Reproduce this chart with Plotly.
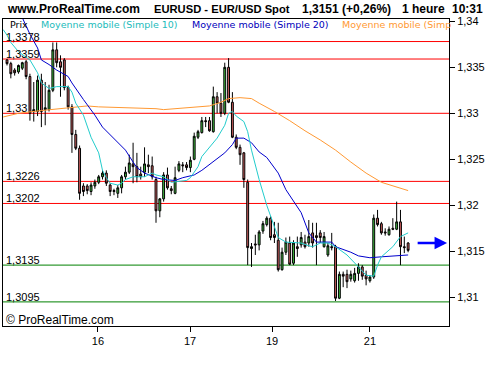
import plotly.graph_objects as go

# ---------------- data ----------------
opens = [1.3358,1.3354,1.3347,1.3345,1.3349,1.3356,1.3340,1.3302,1.3302,1.3336,
         1.3304,1.3304,1.3325,1.3369,1.3356,1.3358,1.3328,1.3307,1.3277,1.3262,
         1.3221,1.3221,1.3215,1.3221,1.3225,1.3231,1.3235,1.3222,1.3215,1.3213,
         1.3219,1.3231,1.3236,1.3245,1.3242,1.3234,1.3236,1.3244,1.3243,1.3228,
         1.3194,1.3207,1.3233,1.3218,1.3213,1.3238,1.3244,1.3244,1.3241,1.3250,
         1.3274,1.3279,1.3292,1.3292,1.3280,1.3318,1.3311,1.3300,1.3350,1.3312,
         1.3274,1.3263,1.3257,1.3225,1.3153,1.3158,1.3157,1.3172,1.3179,1.3186,
         1.3168,1.3162,1.3130,1.3149,1.3159,1.3137,1.3155,1.3157,1.3160,1.3159,
         1.3170,1.3167,1.3170,1.3155,1.3146,1.3155,1.3155,1.3099,1.3125,1.3125,
         1.3120,1.3118,1.3126,1.3133,1.3124,1.3118,1.3122,1.3186,1.3180,1.3171,
         1.3168,1.3175,1.3174,1.3182,1.3155,1.3159]
highs = [1.3359,1.3356,1.3349,1.3353,1.3356,1.3358,1.3343,1.3334,1.3341,1.3343,
         1.3334,1.3331,1.3377,1.3377,1.3363,1.3360,1.3330,1.3310,1.3282,1.3265,
         1.3224,1.3223,1.3225,1.3228,1.3233,1.3238,1.3238,1.3224,1.3218,1.3222,
         1.3233,1.3242,1.3255,1.3268,1.3257,1.3242,1.3263,1.3255,1.3253,1.3231,
         1.3208,1.3236,1.3241,1.3221,1.3242,1.3248,1.3247,1.3247,1.3253,1.3279,
         1.3282,1.3296,1.3296,1.3296,1.3329,1.3323,1.3322,1.3355,1.3360,1.3323,
         1.3277,1.3266,1.3258,1.3228,1.3159,1.3168,1.3173,1.3183,1.3188,1.3188,
         1.3182,1.3181,1.3154,1.3165,1.3166,1.3162,1.3166,1.3171,1.3168,1.3184,
         1.3181,1.3181,1.3173,1.3171,1.3159,1.3170,1.3157,1.3128,1.3128,1.3130,
         1.3129,1.3132,1.3137,1.3135,1.3129,1.3124,1.3190,1.3195,1.3182,1.3175,
         1.3177,1.3186,1.3204,1.3195,1.3166,1.3160]
lows = [1.3352,1.3338,1.3341,1.3343,1.3347,1.3337,1.3292,1.3291,1.3297,1.3285,
        1.3287,1.3302,1.3323,1.3350,1.3318,1.3325,1.3304,1.3257,1.3260,1.3206,
        1.3210,1.3212,1.3211,1.3218,1.3223,1.3228,1.3221,1.3210,1.3211,1.3208,
        1.3213,1.3228,1.3234,1.3224,1.3225,1.3228,1.3231,1.3235,1.3228,1.3181,
        1.3187,1.3204,1.3217,1.3212,1.3212,1.3236,1.3236,1.3238,1.3236,1.3249,
        1.3272,1.3278,1.3285,1.3280,1.3279,1.3300,1.3296,1.3298,1.3311,1.3273,
        1.3261,1.3244,1.3219,1.3135,1.3133,1.3146,1.3151,1.3169,1.3177,1.3162,
        1.3159,1.3128,1.3129,1.3146,1.3135,1.3135,1.3144,1.3154,1.3153,1.3155,
        1.3154,1.3135,1.3159,1.3154,1.3144,1.3151,1.3096,1.3098,1.3111,1.3110,
        1.3117,1.3116,1.3118,1.3119,1.3113,1.3116,1.3120,1.3177,1.3168,1.3167,
        1.3167,1.3173,1.3173,1.3135,1.3148,1.3149]
closes = [1.3354,1.3343,1.3344,1.3352,1.3355,1.3340,1.3300,1.3304,1.3336,1.3302,
          1.3306,1.3325,1.3369,1.3355,1.3350,1.3328,1.3307,1.3277,1.3262,1.3213,
          1.3215,1.3216,1.3222,1.3225,1.3231,1.3235,1.3224,1.3215,1.3216,1.3219,
          1.3231,1.3236,1.3246,1.3242,1.3231,1.3231,1.3245,1.3242,1.3231,1.3194,
          1.3207,1.3233,1.3219,1.3216,1.3230,1.3245,1.3243,1.3241,1.3249,1.3275,
          1.3280,1.3292,1.3291,1.3281,1.3318,1.3311,1.3300,1.3350,1.3312,1.3274,
          1.3263,1.3255,1.3228,1.3154,1.3155,1.3157,1.3171,1.3180,1.3186,1.3165,
          1.3165,1.3130,1.3149,1.3160,1.3136,1.3159,1.3153,1.3165,1.3155,1.3166,
          1.3159,1.3165,1.3165,1.3166,1.3156,1.3154,1.3099,1.3125,1.3123,1.3117,
          1.3125,1.3126,1.3133,1.3123,1.3120,1.3122,1.3186,1.3179,1.3170,1.3170,
          1.3174,1.3174,1.3182,1.3155,1.3154,1.3151]

sma10_x = [-1,0,1,3,6,8,9,11,13,16,17,18,20,22,24,25,26,27,29,30,31,33,36,38,39,41,43,
           47,48,50,51,53,55,57,58,59,60,62,63,64,65,66,68,70,71,73,77,79,80,82,84,86,
           89,92,94,96,97,98,101,103,105]
sma10_y = [1.3391,1.3385,1.3377,1.3367,1.3358,1.3344,1.3333,1.3327,1.3329,1.3329,1.3323,
           1.3311,1.3298,1.3274,1.3257,1.3238,1.3230,1.3224,1.3222,1.3224,1.3228,1.3231,
           1.3231,1.3235,1.3233,1.3231,1.3225,1.3227,1.3230,1.3242,1.3253,1.3263,1.3273,
           1.3287,1.3300,1.3302,1.3297,1.3291,1.3280,1.3260,1.3244,1.3228,1.3200,1.3177,
           1.3165,1.3160,1.3159,1.3156,1.3155,1.3159,1.3159,1.3155,1.3146,1.3133,1.3124,
           1.3123,1.3135,1.3144,1.3155,1.3166,1.3170]

sma20_x = [4,6,8,9,11,13,16,17,20,23,25,27,29,31,33,34,36,39,41,44,46,49,51,54,57,59,60,
           62,64,66,68,71,73,77,79,81,85,86,90,92,95,98,101,105]
sma20_y = [1.3404,1.3386,1.3371,1.3358,1.3353,1.3347,1.3340,1.3333,1.3315,1.3298,1.3285,
           1.3277,1.3268,1.3260,1.3247,1.3241,1.3235,1.3230,1.3228,1.3227,1.3230,1.3233,
           1.3238,1.3247,1.3257,1.3266,1.3273,1.3273,1.3268,1.3258,1.3252,1.3235,1.3217,
           1.3192,1.3170,1.3160,1.3160,1.3155,1.3149,1.3145,1.3143,1.3144,1.3145,1.3146]

sma_long_x = [-1,3,9,14,17,21,24,32,39,41,44,51,53,56,58,61,64,66,70,74,78,82,86,90,94,
              98,102,105]
sma_long_y = [1.3296,1.3300,1.3303,1.3305,1.3307,1.3308,1.3307,1.3306,1.3305,1.3304,1.3305,
              1.3307,1.3308,1.3312,1.3316,1.3317,1.3316,1.3311,1.3302,1.3292,1.3281,1.3271,
              1.3260,1.3247,1.3235,1.3225,1.3220,1.3216]

red_levels = [1.3378, 1.3359, 1.33, 1.3226, 1.3202]
red_labels = ["1,3378", "1,3359", "1,33", "1,3226", "1,3202"]
green_levels = [1.3135, 1.3095]
green_labels = ["1,3135", "1,3095"]

y_tickvals = [1.31, 1.315, 1.32, 1.325, 1.33, 1.335, 1.34]
y_ticktext = ["1,31", "1,315", "1,32", "1,325", "1,33", "1,335", "1,34"]
x_tickvals = [23.8, 47.9, 69.4, 95.0]
x_ticktext = ["16", "17", "19", "21"]

last_price = 1.3159

# ---------------- figure ----------------
W, H = 500, 370
ML, MR, MT, MB = 3, 51, 19, 44
PW, PH = W - ML - MR, H - MT - MB

def px(x):
    return (x - ML) / PW

def py(y):
    return (H - MB - y) / PH

fig = go.Figure()

shapes = []
for lv in red_levels:
    shapes.append(dict(type="line", xref="paper", yref="y", x0=0, x1=1, y0=lv, y1=lv,
                       line=dict(color="#ff0000", width=1), layer="below"))
for lv in green_levels:
    shapes.append(dict(type="line", xref="paper", yref="y", x0=0, x1=1, y0=lv, y1=lv,
                       line=dict(color="#008000", width=1), layer="below"))

fig.add_trace(go.Scatter(x=sma_long_x, y=sma_long_y, mode="lines",
                         line=dict(color="#ff9933", width=1), hoverinfo="skip"))
fig.add_trace(go.Scatter(x=sma20_x, y=sma20_y, mode="lines",
                         line=dict(color="#0000cc", width=1), hoverinfo="skip"))
fig.add_trace(go.Scatter(x=sma10_x, y=sma10_y, mode="lines",
                         line=dict(color="#22cccc", width=1), hoverinfo="skip"))

fig.add_trace(go.Candlestick(
    x=list(range(len(opens))), open=opens, high=highs, low=lows, close=closes,
    increasing=dict(line=dict(color="#000000", width=1), fillcolor="#40c040"),
    decreasing=dict(line=dict(color="#000000", width=1), fillcolor="#d06060"),
    whiskerwidth=0, hoverinfo="skip"))

ann = []
header = [("www.ProRealTime.com", 5, 12), ("EURUSD - EUR/USD Spot", 152, 11.2),
          ("1,3151 (+0,26%)", 300, 12), ("1 heure", 400, 12), ("10:31", 450, 12)]
for t, x, s in header:
    ann.append(dict(text="<b>" + t + "</b>", xref="paper", yref="paper", x=px(x), y=py(9),
                    xanchor="left", yanchor="middle", showarrow=False,
                    font=dict(family="Liberation Sans, Arial", size=s, color="#000000")))

legend = [("Prix", 8, "#000000"), ("Moyenne mobile (Simple 10)", 39, "#22bbbb"),
          ("Moyenne mobile (Simple 20)", 190, "#0000bb"), ("Moyenne mobile (Simp", 340, "#ff9933")]
for t, x, c in legend:
    ann.append(dict(text=t, xref="paper", yref="paper", x=px(x), y=py(24.5),
                    xanchor="left", yanchor="middle", showarrow=False,
                    font=dict(family="DejaVu Sans, Verdana", size=9.5, color=c)))

font_n = dict(family="Liberation Sans, Arial", size=11, color="#000000")
for lv, lb in zip(red_levels + green_levels, red_labels + green_labels):
    ann.append(dict(text=lb, xref="paper", yref="y", x=px(5), y=lv, xanchor="left",
                    yanchor="bottom", yshift=-2, showarrow=False, font=font_n, borderpad=0))

ann.append(dict(text="© ProRealTime.com", xref="paper", yref="paper", x=px(4), y=py(320),
                xanchor="left", yanchor="middle", showarrow=False,
                font=dict(family="Liberation Sans, Arial", size=12, color="#000000")))

ann.append(dict(x=115.2, y=last_price, ax=107.1, ay=last_price, xref="x", yref="y",
                axref="x", ayref="y", showarrow=True, arrowhead=2, arrowsize=1,
                arrowwidth=2.5, arrowcolor="#0000ff", text=""))

fig.update_layout(
    width=W, height=H, margin=dict(l=ML, r=MR, t=MT, b=MB),
    paper_bgcolor="#ffffff", plot_bgcolor="#ffffff", showlegend=False,
    shapes=shapes, annotations=ann,
    xaxis=dict(range=[-1.05, 115.7], tickvals=x_tickvals, ticktext=x_ticktext,
               ticks="outside", ticklen=5, tickcolor="#000000", showgrid=False,
               zeroline=False, showline=True, linecolor="#000000", linewidth=1, mirror=True,
               rangeslider=dict(visible=False),
               tickfont=dict(family="Liberation Sans, Arial", size=11, color="#000000")),
    yaxis=dict(range=[1.30688, 1.34025], side="right", tickvals=y_tickvals,
               ticktext=y_ticktext, ticks="outside", ticklen=5, tickcolor="#000000",
               showgrid=False, zeroline=False, showline=True, linecolor="#000000",
               linewidth=1, mirror=True,
               tickfont=dict(family="Liberation Sans, Arial", size=11, color="#000000")),
)

fig.write_html("out.html", config={"displayModeBar": False},
               post_script="document.body.style.margin='0';document.body.style.padding='0';")
